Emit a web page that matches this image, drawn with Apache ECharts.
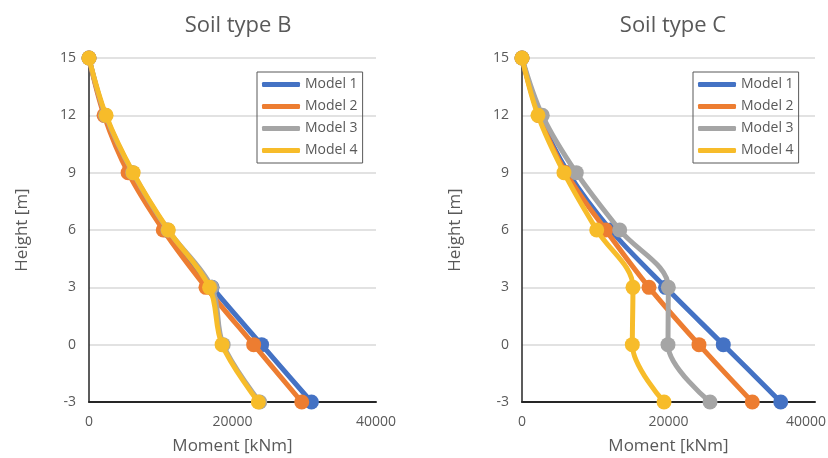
<!DOCTYPE html>
<html><head><meta charset="utf-8">
<script src="https://cdn.jsdelivr.net/npm/echarts@6/dist/echarts.min.js"></script>
<style>html,body{margin:0;padding:0;background:#fff}#c{width:828px;height:458px}</style>
</head><body><div id="c"></div>
<script>
const heights = [15, 12, 9, 6, 3, 0, -3];
const seriesNames = ['Model 1', 'Model 2', 'Model 3', 'Model 4'];
const colors = ['#4472C4', '#ED7D31', '#A5A5A5', '#F7BC2A'];
// Soil type B moments [kNm]
const soilB_model1 = [0, 2250, 5900, 10700, 17150, 24050, 31000];
const soilB_model2 = [0, 2100, 5450, 10350, 16300, 22950, 29650];
const soilB_model3 = [0, 2300, 6100, 11000, 17100, 18700, 23800];
const soilB_model4 = [0, 2380, 6150, 11050, 16800, 18550, 23600];
// Soil type C moments [kNm]
const soilC_model1 = [0, 2400, 6300, 12100, 19600, 27480, 35320];
const soilC_model2 = [0, 2300, 6000, 11430, 17340, 24160, 31440];
const soilC_model3 = [0, 2770, 7410, 13340, 19980, 19930, 25670];
const soilC_model4 = [0, 2180, 5730, 10200, 15150, 15060, 19390];
const titles = ['Soil type B', 'Soil type C'];
const xTitle = 'Moment [kNm]';
const yTitle = 'Height [m]';

const font = 'Open Sans';
const txt = '#595959';
const chart = echarts.init(document.getElementById('c'));
const grids = [
  {left: 89, top: 58, width: 287, height: 344, outerBoundsMode: 'none'},
  {left: 522, top: 58, width: 293, height: 344, outerBoundsMode: 'none'}
];
const centers = [233, 668];
const dataSets = [
  [soilB_model1, soilB_model2, soilB_model3, soilB_model4],
  [soilC_model1, soilC_model2, soilC_model3, soilC_model4]
];
const series = [];
dataSets.forEach((set, gi) => {
  set.forEach((vals, si) => {
    series.push({
      name: seriesNames[si], type: 'line', xAxisIndex: gi, yAxisIndex: gi,
      data: vals.map((v, i) => [v, heights[i]]),
      smooth: 0.35, symbol: 'circle', symbolSize: 15,
      lineStyle: {width: 5, color: colors[si], cap: 'round', join: 'round'},
      itemStyle: {color: colors[si]},
      z: 2 + si
    });
  });
});
const xAxis = grids.map((g, i) => ({
  gridIndex: i, type: 'value', min: 0, max: 40000, interval: 20000,
  name: xTitle, nameLocation: 'middle', nameGap: 36,
  nameTextStyle: {fontFamily: font, fontSize: 17, color: txt},
  axisLine: {show: true, onZero: false, lineStyle: {color: '#262626', width: 2}},
  axisTick: {show: false}, splitLine: {show: false},
  axisLabel: {
    fontFamily: font, fontSize: 14, color: txt, margin: 13,
    formatter: v => (i === 1 && v === 40000) ? '{r|' + v + '}' : String(v),
    rich: {r: {fontFamily: font, fontSize: 14, color: txt, padding: [0, 18, 0, 0]}}
  }
}));
const yAxis = grids.map((g, i) => ({
  gridIndex: i, type: 'value', min: -3, max: 15, interval: 3,
  name: yTitle, nameLocation: 'middle', nameGap: 58, nameRotate: 90,
  nameTextStyle: {fontFamily: font, fontSize: 17, color: txt},
  axisLine: {show: true, onZero: false, lineStyle: {color: '#262626', width: 1.5}},
  axisTick: {show: false},
  splitLine: {show: true, lineStyle: {color: '#D9D9D9', width: 1.5}},
  axisLabel: {fontFamily: font, fontSize: 14, color: txt, margin: 13}
}));
const legendLefts = [257, 693];
chart.setOption({
  animation: false,
  title: titles.map((t, i) => ({
    text: t, left: centers[i], top: 10, textAlign: 'center',
    textStyle: {fontFamily: font, fontSize: 22, fontWeight: 'normal', color: txt}
  })),
  grid: grids,
  xAxis: xAxis, yAxis: yAxis,
  legend: legendLefts.map(l => ({
    data: seriesNames, orient: 'vertical', left: l, top: 72,
    icon: 'roundRect', itemWidth: 38, itemHeight: 5, itemGap: 5,
    borderColor: '#595959', borderWidth: 1, padding: [4, 5, 4, 5],
    textStyle: {fontFamily: font, fontSize: 14, color: txt, lineHeight: 17}
  })),
  series: series
});
</script></body></html>
